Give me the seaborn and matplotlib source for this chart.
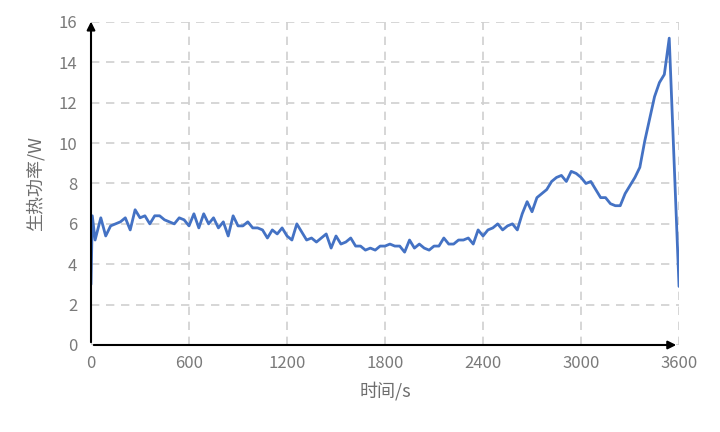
import numpy as np
import pandas as pd
import matplotlib
matplotlib.use("Agg")
import matplotlib.pyplot as plt
import seaborn as sns

# 时间 (s) 与 生热功率 (W)
times = [0, 8, 25] + list(range(60, 3541, 30)) + [3600]
power = [
    3.0, 6.4, 5.2,
    6.3, 5.4, 5.9, 6.0, 6.1, 6.3, 5.7, 6.7, 6.3, 6.4,
    6.0, 6.4, 6.4, 6.2, 6.1, 6.0, 6.3, 6.2, 5.9, 6.5,
    5.8, 6.5, 6.0, 6.3, 5.8, 6.1, 5.4, 6.4, 5.9, 5.9,
    6.1, 5.8, 5.8, 5.7, 5.3, 5.7, 5.5, 5.8, 5.4, 5.2,
    6.0, 5.6, 5.2, 5.3, 5.1, 5.3, 5.5, 4.8, 5.4, 5.0,
    5.1, 5.3, 4.9, 4.9, 4.7, 4.8, 4.7, 4.9, 4.9, 5.0,
    4.9, 4.9, 4.6, 5.2, 4.8, 5.0, 4.8, 4.7, 4.9, 4.9,
    5.3, 5.0, 5.0, 5.2, 5.2, 5.3, 5.0, 5.7, 5.4, 5.7,
    5.8, 6.0, 5.7, 5.9, 6.0, 5.7, 6.5, 7.1, 6.6, 7.3,
    7.5, 7.7, 8.1, 8.3, 8.4, 8.1, 8.6, 8.5, 8.3, 8.0,
    8.1, 7.7, 7.3, 7.3, 7.0, 6.9, 6.9, 7.5, 7.9, 8.3,
    8.8, 10.1, 11.2, 12.3, 13.0, 13.4, 15.2,
    2.9,
]
xticks = [0, 600, 1200, 1800, 2400, 3000, 3600]
yticks = [0, 2, 4, 6, 8, 10, 12, 14, 16]

df = pd.DataFrame({"t": times, "p": power})

sns.set_style("white")
plt.rcParams["font.family"] = ["Noto Sans CJK SC", "DejaVu Sans"]

fig = plt.figure(figsize=(7.2, 4.32), dpi=100)
ax = fig.add_axes([0.1264, 0.2014, 0.8167, 0.7477])

sns.lineplot(data=df, x="t", y="p", ax=ax, color="#4472C4", linewidth=2.0)

ax.set_xlim(0, 3600)
ax.set_ylim(0, 16)
ax.set_xticks(xticks)
ax.set_yticks(yticks)
ax.tick_params(length=0, labelsize=12, labelcolor="#7A7A7A")
ax.tick_params(axis="y", pad=10)
ax.tick_params(axis="x", pad=7)
ax.grid(True, color="#D0D0D0", linestyle=(0, (5, 4)), linewidth=1.2)
ax.set_axisbelow(True)
for s in ax.spines.values():
    s.set_visible(False)

# 坐标轴箭头
arrow = dict(arrowstyle="-|>", color="black", lw=1.5, mutation_scale=12)
ax.annotate("", xy=(0, 1.01), xytext=(0, 0), xycoords="axes fraction",
            arrowprops=arrow, annotation_clip=False)
ax.annotate("", xy=(1.0, 0), xytext=(0, 0), xycoords="axes fraction",
            arrowprops=arrow, annotation_clip=False)

ax.set_xlabel("时间/s", fontsize=13, color="#6E6E6E", labelpad=7)
ax.set_ylabel("生热功率/W", fontsize=13, color="#6E6E6E", labelpad=10)

plt.savefig("out.png", dpi=100)
